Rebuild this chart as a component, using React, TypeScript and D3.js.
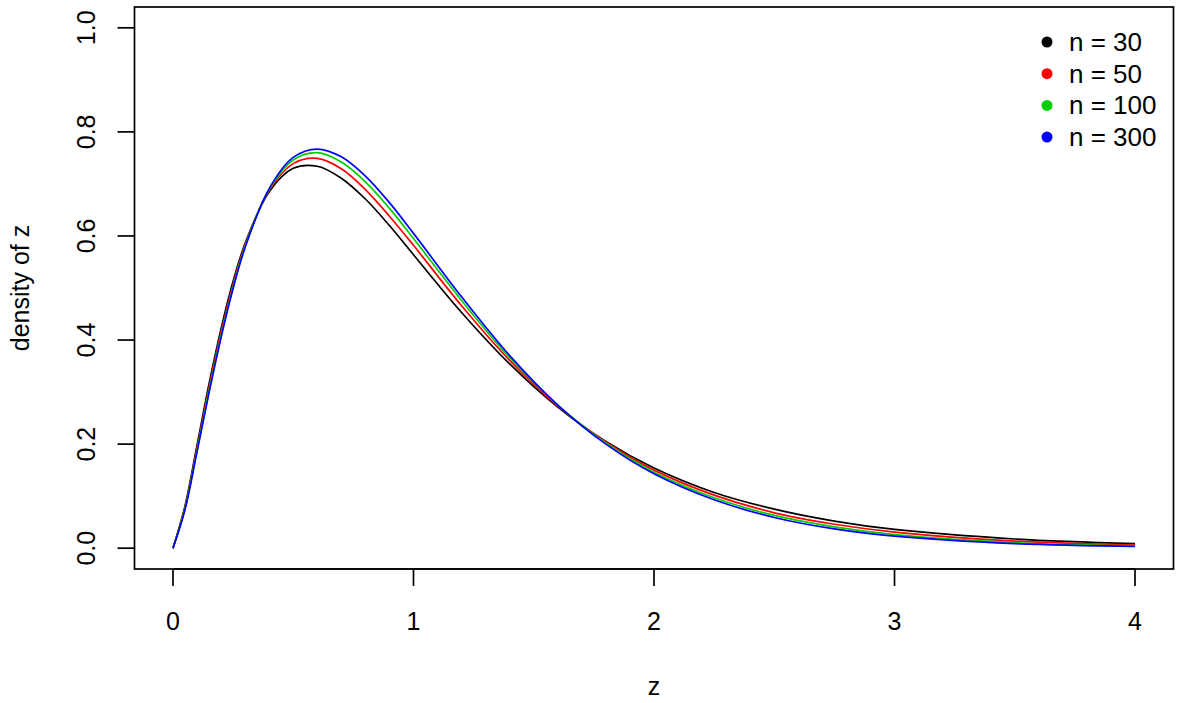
import React, { useEffect, useRef } from 'react'
import * as d3 from 'd3'

// z values where the curves were read
const zValues = [0, 0.05, 0.1, 0.15, 0.2, 0.25, 0.3, 0.4, 0.5, 0.6, 0.7, 0.8, 0.9, 1.0, 1.2, 1.4, 1.6, 1.8, 2.0, 2.25, 2.5, 2.75, 3.0, 3.5, 4.0]

const densN30 = [0, 0.081, 0.198, 0.316, 0.422, 0.513, 0.586, 0.685, 0.730, 0.734, 0.711, 0.671, 0.620, 0.564, 0.453, 0.354, 0.271, 0.205, 0.154, 0.107, 0.075, 0.052, 0.036, 0.0177, 0.0088]
const densN50 = [0, 0.078, 0.192, 0.309, 0.415, 0.507, 0.583, 0.688, 0.739, 0.749, 0.729, 0.689, 0.638, 0.582, 0.466, 0.361, 0.273, 0.204, 0.150, 0.102, 0.068, 0.046, 0.031, 0.0136, 0.0061]
const densN100 = [0, 0.076, 0.188, 0.303, 0.409, 0.502, 0.580, 0.690, 0.746, 0.760, 0.742, 0.704, 0.653, 0.595, 0.476, 0.366, 0.275, 0.202, 0.146, 0.097, 0.063, 0.041, 0.026, 0.0106, 0.0043]
const densN300 = [0, 0.074, 0.185, 0.299, 0.405, 0.499, 0.578, 0.691, 0.751, 0.767, 0.752, 0.715, 0.664, 0.605, 0.483, 0.370, 0.275, 0.200, 0.143, 0.093, 0.059, 0.037, 0.023, 0.0087, 0.0032]

const seriesLabels = ['n = 30', 'n = 50', 'n = 100', 'n = 300']
const seriesColors = ['#000000', '#FF0000', '#00CD00', '#0000FF']

const xTicks = [0, 1, 2, 3, 4]
const yTicks = [0, 0.2, 0.4, 0.6, 0.8, 1.0]

const W = 1181
const H = 703
const FONT = 'Liberation Sans, Arial, Helvetica, sans-serif'
const AXIS_FS = 25
const LEGEND_FS = 26

const App = () => {
  const svgRef = useRef<SVGSVGElement>(null)

  useEffect(() => {
    const svg = d3.select(svgRef.current)
    svg.selectAll('*').remove()

    // R style: 4% padding on both axes
    const x = d3.scaleLinear([-0.16, 4.16], [134.5, 1173.5])
    const y = d3.scaleLinear([-0.04, 1.04], [569, 7])

    const allSeries = [densN30, densN50, densN100, densN300]

    const line = d3.line<number>()
      .x((_, i) => x(zValues[i]))
      .y(d => y(d))
      .curve(d3.curveCatmullRom.alpha(0.5))

    allSeries.forEach((s, k) => {
      svg.append('path')
        .attr('d', line(s))
        .attr('fill', 'none')
        .attr('stroke', seriesColors[k])
        .attr('stroke-width', 1.7)
    })

    // frame
    svg.append('rect')
      .attr('x', x.range()[0]).attr('y', y.range()[1])
      .attr('width', x.range()[1] - x.range()[0])
      .attr('height', y.range()[0] - y.range()[1])
      .attr('fill', 'none')
      .attr('stroke', '#000')
      .attr('stroke-width', 1.7)

    // x axis
    const xa = svg.append('g')
    xa.append('line')
      .attr('x1', x(0)).attr('x2', x(4))
      .attr('y1', 569).attr('y2', 569)
      .attr('stroke', '#000').attr('stroke-width', 1.7)
    xa.selectAll('line.tick').data(xTicks).join('line')
      .attr('class', 'tick')
      .attr('x1', d => x(d)).attr('x2', d => x(d))
      .attr('y1', 569).attr('y2', 586)
      .attr('stroke', '#000').attr('stroke-width', 1.7)
    xa.selectAll('text').data(xTicks).join('text')
      .attr('x', d => x(d)).attr('y', 630)
      .attr('text-anchor', 'middle')
      .attr('font-family', FONT).attr('font-size', AXIS_FS)
      .text(d => d3.format('d')(d))

    // y axis
    const ya = svg.append('g')
    ya.selectAll('line.tick').data(yTicks).join('line')
      .attr('class', 'tick')
      .attr('x1', 117.5).attr('x2', 134.5)
      .attr('y1', d => y(d)).attr('y2', d => y(d))
      .attr('stroke', '#000').attr('stroke-width', 1.7)
    ya.selectAll('text').data(yTicks).join('text')
      .attr('transform', d => `translate(95,${y(d)}) rotate(-90)`)
      .attr('text-anchor', 'middle')
      .attr('font-family', FONT).attr('font-size', AXIS_FS)
      .text(d => d3.format('.1f')(d))

    // axis titles
    svg.append('text')
      .attr('x', x(2)).attr('y', 695)
      .attr('text-anchor', 'middle')
      .attr('font-family', FONT).attr('font-size', AXIS_FS)
      .text('z')
    svg.append('text')
      .attr('transform', `translate(29,${y(0.5)}) rotate(-90)`)
      .attr('text-anchor', 'middle')
      .attr('font-family', FONT).attr('font-size', AXIS_FS)
      .text('density of z')

    // legend
    const lg = svg.append('g')
    seriesLabels.forEach((lab, k) => {
      const cy = 42 + k * 31.7
      lg.append('circle')
        .attr('cx', 1047).attr('cy', cy).attr('r', 5.5)
        .attr('fill', seriesColors[k])
      lg.append('text')
        .attr('x', 1069).attr('y', cy + 9)
        .attr('font-family', FONT).attr('font-size', LEGEND_FS)
        .text(lab)
    })
  }, [])

  return (
    <svg ref={svgRef} width={W} height={H}
      style={{ position: 'absolute', left: 0, top: 0, background: '#fff' }} />
  )
}

export default App
